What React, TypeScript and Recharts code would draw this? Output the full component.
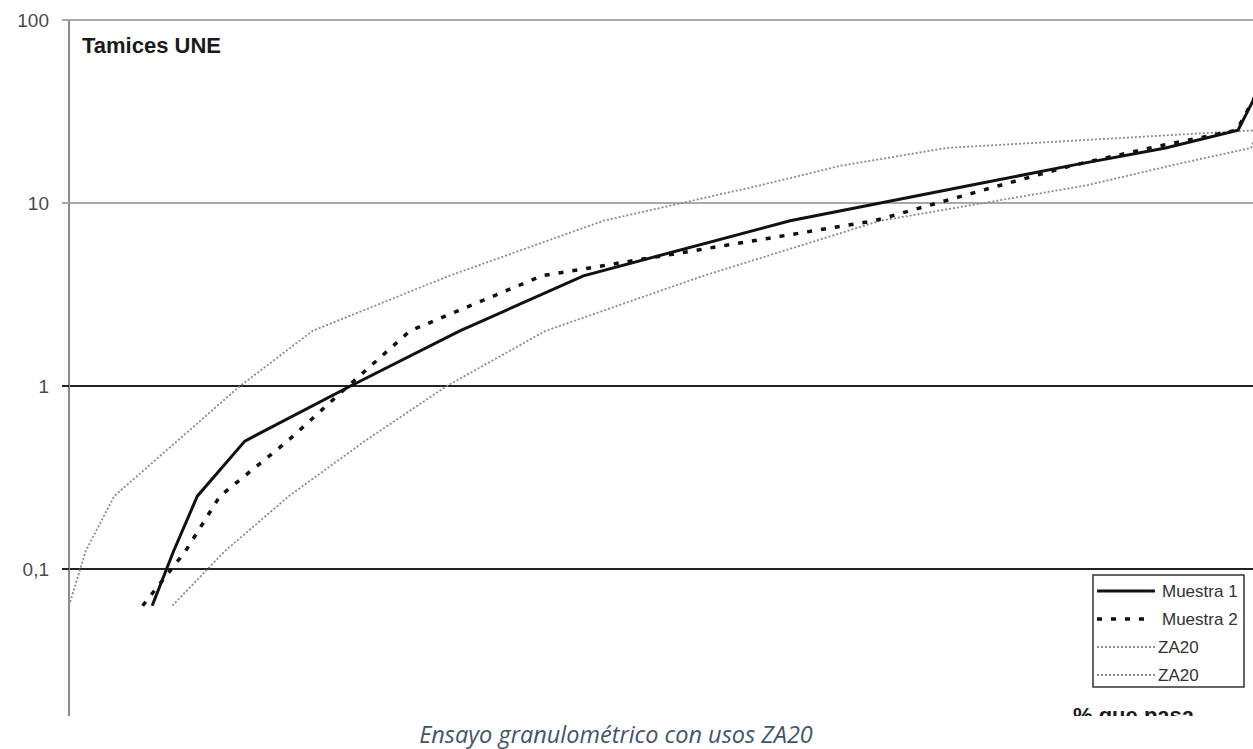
import React from "react";
import { LineChart, Line, XAxis, YAxis, ReferenceLine, Legend } from "recharts";

// Sieve openings (mm) on the log y axis, % passing on the x axis
const SIEVES_MM = [0.063, 0.125, 0.25, 0.5, 1, 2, 4, 8, 12.5, 16, 20, 25, 40];
const MUESTRA_1 = [7.0, 8.8, 10.8, 14.8, 23.7, 32.9, 43.3, 60.7, 75.9, 84.3, 92.3, 98.4, 100];
const MUESTRA_2 = [6.2, 9.8, 12.7, 18.4, 23.5, 28.7, 39.8, 67.8, 78.4, 84.4, 91.0, 98.3, 100];
const ZA20_LOW = [0, 1.4, 3.8, 9.1, 14.4, 20.5, 32.0, 45.0, 58.2, 65.0, 73.9, 100, 100];
const ZA20_HIGH = [8.7, 13.1, 18.5, 24.9, 31.8, 40.1, 53.4, 68.3, 85.7, 92.7, 99.5, 100, 100];
const Y_TICKS = [0.1, 1, 10, 100];

const data = SIEVES_MM.map((size, i) => ({
  size,
  m1: MUESTRA_1[i],
  m2: MUESTRA_2[i],
  zaLow: ZA20_LOW[i],
  zaHigh: ZA20_HIGH[i],
}));

const FONT = '"Liberation Sans", Arial, sans-serif';

// decades above 1 are drawn light grey, the rest near-black
const gridColour = (v: number) => (v >= 10 ? "#a8a8a8" : "#222");

function YTick({ x, y, payload }: any) {
  const v = payload.value as number;
  return (
    <g>
      <line x1={x + 13} x2={x + 20} y1={y} y2={y} stroke={gridColour(v)} strokeWidth={2} />
      <text
        x={x}
        y={y}
        dy="0.355em"
        textAnchor="end"
        fontFamily={FONT}
        fontSize={19}
        fill="#4a4a4a"
      >
        {String(v).replace(".", ",")}
      </text>
    </g>
  );
}

function LegendBox({ payload }: any) {
  const rows = payload ?? [];
  return (
    <svg width={153} height={114} style={{ display: "block" }}>
      <rect x={1} y={1} width={151} height={112} fill="#fff" stroke="#333" strokeWidth={1.5} />
      {rows.map((e: any, i: number) => {
        const cy = 17 + i * 28;
        const p = e.payload ?? {};
        const dotted = i >= 2;
        return (
          <g key={i}>
            <line
              x1={5}
              x2={dotted ? 64 : i === 1 ? 58 : 63}
              y1={cy}
              y2={cy}
              stroke={e.color}
              strokeWidth={p.strokeWidth ?? 2}
              strokeDasharray={p.strokeDasharray}
            />
            <text
              x={dotted ? 66 : 70}
              y={cy}
              dy="0.36em"
              fontFamily={FONT}
              fontSize={17}
              fill="#333"
            >
              {e.value}
            </text>
          </g>
        );
      })}
    </svg>
  );
}

export default function App() {
  return (
    <div
      style={{
        position: "absolute",
        left: 0,
        top: 0,
        width: 1253,
        height: 749,
        background: "#fff",
        overflow: "hidden",
      }}
    >
      <div style={{ position: "absolute", left: 0, top: 0, width: 1253, height: 716, overflow: "hidden" }}>
        <LineChart
          width={1300}
          height={800}
          data={data}
          layout="vertical"
          margin={{ top: 20, right: 43, bottom: 48, left: 0 }}
        >
          <XAxis type="number" dataKey="m1" domain={[0, 100]} hide />
          <YAxis
            type="number"
            dataKey="size"
            scale="log"
            domain={[0.01, 100]}
            ticks={Y_TICKS}
            reversed
            allowDataOverflow
            width={69}
            tickLine={false}
            tickMargin={13}
            tickSize={7}
            axisLine={{ stroke: "#8c8c8c", strokeWidth: 2 }}
            tick={<YTick />}
          />
          {Y_TICKS.map((v) => (
            <ReferenceLine key={v} y={v} stroke={gridColour(v)} strokeWidth={2} />
          ))}
          <Line
            dataKey="zaLow"
            name="ZA20"
            type="linear"
            stroke="#8a8a8a"
            strokeWidth={1.8}
            strokeDasharray="2 2"
            dot={false}
            isAnimationActive={false}
          />
          <Line
            dataKey="zaHigh"
            name="ZA20"
            type="linear"
            stroke="#8a8a8a"
            strokeWidth={1.8}
            strokeDasharray="2 2"
            dot={false}
            isAnimationActive={false}
          />
          <Line
            dataKey="m2"
            name="Muestra 2"
            type="linear"
            stroke="#111"
            strokeWidth={3.5}
            strokeDasharray="5 9"
            dot={false}
            isAnimationActive={false}
          />
          <Line
            dataKey="m1"
            name="Muestra 1"
            type="linear"
            stroke="#111"
            strokeWidth={3}
            dot={false}
            isAnimationActive={false}
          />
          <Legend
            layout="vertical"
            align="center"
            verticalAlign="middle"
            content={(props: any) => {
              const order = ["m1", "m2", "zaLow", "zaHigh"];
              const sorted = [...(props.payload ?? [])].sort(
                (a: any, b: any) => order.indexOf(a.dataKey) - order.indexOf(b.dataKey)
              );
              return <LegendBox payload={sorted} />;
            }}
            wrapperStyle={{ left: 1092, top: 574, width: 153, height: 114 }}
          />
        </LineChart>
        <div
          style={{
            position: "absolute",
            left: 82,
            top: 35,
            fontFamily: FONT,
            fontWeight: "bold",
            fontSize: 22,
            lineHeight: "22px",
            color: "#1a1a1a",
          }}
        >
          Tamices UNE
        </div>
        <div
          style={{
            position: "absolute",
            left: 1073,
            top: 705,
            fontFamily: FONT,
            fontWeight: "bold",
            fontSize: 22,
            lineHeight: "22px",
            color: "#1a1a1a",
            whiteSpace: "nowrap",
          }}
        >
          % que pasa
        </div>
      </div>
      <div
        style={{
          position: "absolute",
          left: 0,
          top: 721,
          width: 1232,
          textAlign: "center",
          fontFamily: '"Open Sans", "Noto Sans", sans-serif',
          fontStyle: "italic",
          fontSize: 23.5,
          lineHeight: "26px",
          color: "#44546a",
        }}
      >
        Ensayo granulométrico con usos ZA20
      </div>
    </div>
  );
}
